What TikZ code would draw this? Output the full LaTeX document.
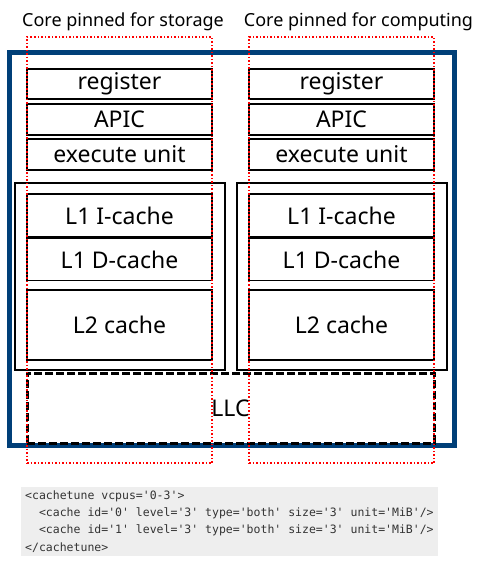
\documentclass[tikz,border=0pt]{standalone}
\usepackage{fontspec}
\setmainfont{Noto Sans}
\setmonofont{DejaVu Sans Mono}
\usepackage{tikz}
\usetikzlibrary{positioning}
\definecolor{ChipBlue}{HTML}{003F78}
\definecolor{PinRed}{HTML}{FF0000}
\definecolor{CodeBg}{HTML}{EEEEEE}
\definecolor{CodeText}{HTML}{333333}

\begin{document}
\begin{tikzpicture}[x=1pt, y=-1pt,
  every node/.style={font=\fontsize{23}{27}\selectfont, inner sep=0pt},
  unitbox/.style={draw, line width=1.5pt, minimum width=185pt},
  groupbox/.style={draw, line width=1.5pt, minimum width=210pt, minimum height=187pt},
  pinbox/.style={draw=PinRed, line width=1.5pt, dash pattern=on 1.5pt off 2pt,
    minimum width=185pt, minimum height=426pt},
  codeline/.style={anchor=west, text=CodeText, font=\ttfamily\fontsize{11.5}{13}\selectfont}]
  \useasboundingbox (0,0) rectangle (479,563);
  % chip outline
  \draw[ChipBlue, line width=5pt] (9,52) rectangle (454,445);
  % two cores, storage (s) and computing (c)
  \foreach \cx/\id in {119.5/s, 341.5/c}{
    \node[unitbox, minimum height=30pt] (reg\id) at (\cx,84) {register};
    \node[unitbox, minimum height=31pt] (apic\id) at (\cx,119.5) {APIC};
    \node[unitbox, minimum height=31pt] (exe\id) at (\cx,154.5) {execute unit};
    \node[groupbox] (grp\id) at (\cx+0.5,276.5) {};
    \node[unitbox, minimum height=43pt] (lonei\id) at (\cx,215.5) {L1 I-cache};
    \node[unitbox, minimum height=42pt, below=0pt of lonei\id] (loned\id) {L1 D-cache};
    \node[unitbox, minimum height=70pt] (ltwo\id) at (\cx,325) {L2 cache};
  }
  % shared last level cache
  \node[draw, line width=3pt, dash pattern=on 8pt off 3pt,
    minimum width=407pt, minimum height=70pt] (llc) at (230.5,408) {LLC};
  % pinned cores
  \node[pinbox] (pins) at (119.5,250) {};
  \node[pinbox] (pinc) at (341.5,250) {};
  \node[font=\fontsize{18}{21}\selectfont] (titles) at (123,22) {Core pinned for storage};
  \node[font=\fontsize{18}{21}\selectfont] (titlec) at (358.5,22) {Core pinned for computing};
  % libvirt snippet
  \fill[CodeBg] (21,487) rectangle (438,556);
  \node[codeline] (code1) at (25,496) {<cachetune vcpus='0-3'>};
  \node[codeline] (code2) at (25,513.3) {\ \ <cache id='0' level='3' type='both' size='3' unit='MiB'/>};
  \node[codeline] (code3) at (25,530.6) {\ \ <cache id='1' level='3' type='both' size='3' unit='MiB'/>};
  \node[codeline] (code4) at (25,548) {</cachetune>};
\end{tikzpicture}
\end{document}
